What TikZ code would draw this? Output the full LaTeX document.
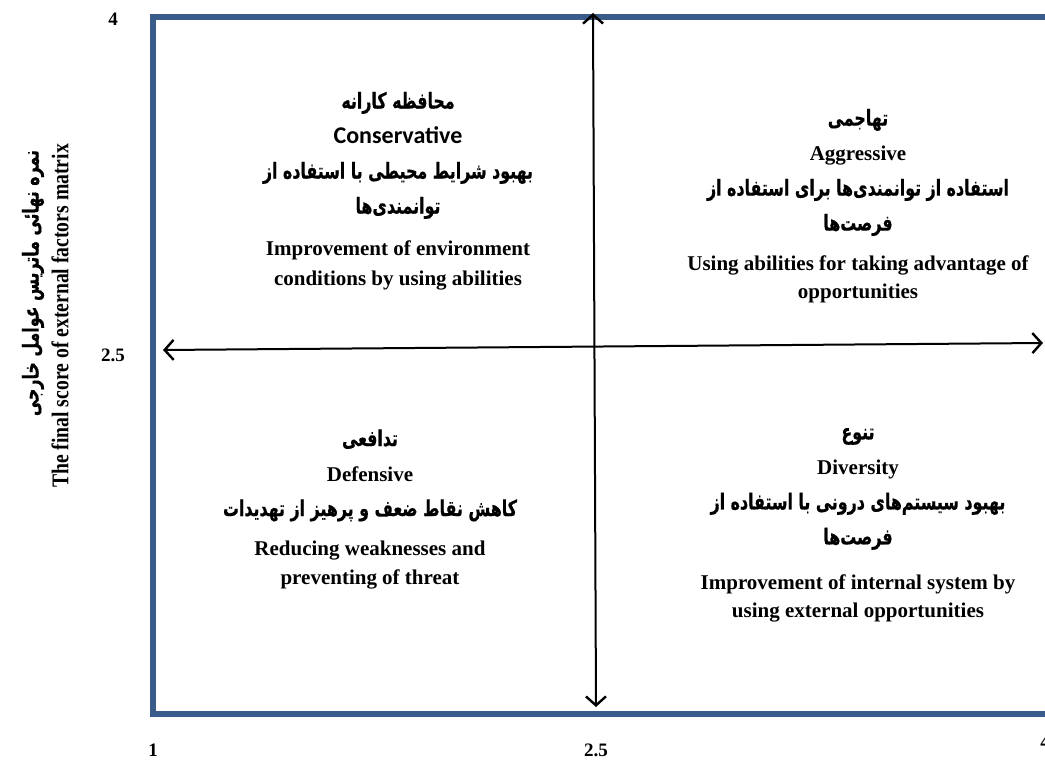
\documentclass[tikz,border=0pt]{standalone}
\usepackage{fontspec}
\setmainfont{Liberation Serif}
\newfontfamily\farsi[Script=Arabic,FakeStretch=0.72,FakeBold=0.5]{DejaVu Sans}
\newfontfamily\calibri{Carlito}
\newfontfamily\narrowserif[FakeStretch=0.82]{Liberation Serif}
\TeXXeTstate=1
\usetikzlibrary{positioning,arrows.meta}
\definecolor{FrameBlue}{RGB}{58,92,138}
\newcommand{\fa}[1]{{\farsi\fontsize{22}{35}\selectfont\beginR #1\endR}}
\tikzset{
  quadframe/.style={draw=FrameBlue,line width=5.5pt},
  axisarrow/.style={{Straight Barb[length=9pt,width=20pt,line width=2.4pt]}-{Straight Barb[length=9pt,width=20pt,line width=2.4pt]},line width=2pt},
  quad/.style={align=center,inner sep=0pt,font=\bfseries\fontsize{21}{35}\selectfont},
  ticklab/.style={font=\bfseries\fontsize{19}{22}\selectfont},
  ylab/.style={rotate=90,font=\bfseries\fontsize{24}{28}\selectfont}
}

\begin{document}
\begin{tikzpicture}[x=1pt,y=-1pt]
  \useasboundingbox (0,0) rectangle (1045,760);
  \clip (0,0) rectangle (1045,760);
  \draw[quadframe] (153,17) rectangle (1075,714);
  \coordinate (hleft) at (163,350);
  \coordinate (hright) at (1043,343);
  \coordinate (vtop) at (593,13);
  \coordinate (vbot) at (596,707);
  \draw[axisarrow] (hleft) -- (hright);
  \draw[axisarrow] (vtop) -- (vbot);
  % quadrants
  \node[quad] (cons) at (398,191) {\fa{محافظه کارانه}\\
    {\calibri\fontsize{24}{35}\selectfont Conservative}\\
    \fa{بهبود شرایط محیطی با استفاده از}\\
    \fa{توانمندی‌ها}\\[7pt]
    Improvement of environment\\[-5pt]
    conditions by using abilities};
  \node[quad] (aggr) at (858,206) {\fa{تهاجمی}\\
    Aggressive\\
    \fa{استفاده از توانمندی‌ها برای استفاده از}\\
    \fa{فرصت‌ها}\\[5pt]
    Using abilities for taking advantage of\\[-7pt]
    opportunities};
  \node[quad] (defn) at (370,509) {\fa{تدافعی}\\
    Defensive\\
    \fa{کاهش نقاط ضعف و پرهیز از تهدیدات}\\[4pt]
    Reducing weaknesses and\\[-6pt]
    preventing of threat};
  \node[quad] (divr) at (858,525) {\fa{تنوع}\\
    Diversity\\
    \fa{بهبود سیستم‌های درونی با استفاده از}\\
    \fa{فرصت‌ها}\\[10pt]
    Improvement of internal system by\\[-7pt]
    using external opportunities};
  % axis labels
  \node[ticklab] (y4) at (113,19) {4};
  \node[ticklab] (y25) at (113,355) {2.5};
  \node[ticklab] (x1) at (153,750) {1};
  \node[ticklab] (x25) at (596,750) {2.5};
  \node[ticklab] (x4) at (1045,742) {4};
  \node[ylab] (yfa) at (33,283) {\fa{نمره نهائی ماتریس عوامل خارجی}};
  \node[ylab] (yen) at (60,316) {\narrowserif The final score of external factors matrix};
\end{tikzpicture}
\end{document}
